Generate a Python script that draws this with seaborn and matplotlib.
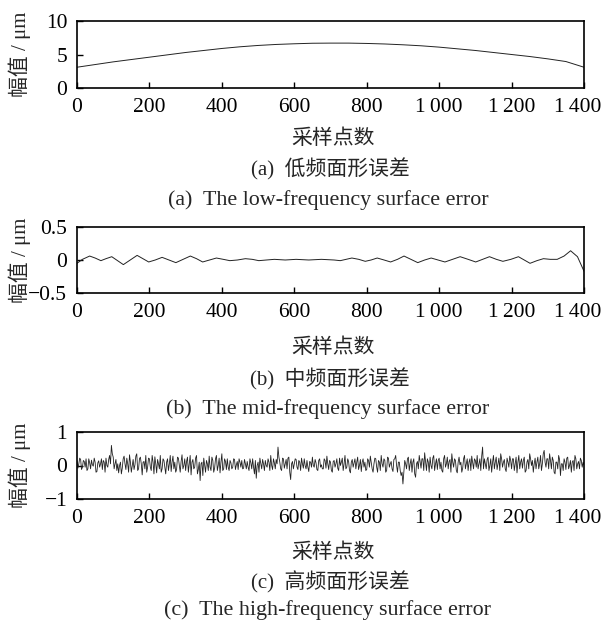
import numpy as np
import pandas as pd
import matplotlib
matplotlib.use("Agg")
import matplotlib.pyplot as plt
import matplotlib.transforms as mtransforms
import seaborn as sns

# low-frequency surface error (read every 50 samples)
low_x = list(range(0, 1401, 50))
low_y = [3.1, 3.5, 3.9, 4.25, 4.6, 4.95, 5.3, 5.6, 5.9, 6.15, 6.35, 6.5, 6.6, 6.68, 6.7,
         6.7, 6.65, 6.57, 6.45, 6.3, 6.1, 5.85, 5.6, 5.3, 5.0, 4.7, 4.35, 3.95, 3.1]

# mid-frequency surface error (peaks, troughs and crossings)
mid_x = [0, 15, 35, 50, 66, 80, 96, 112, 128, 147,
         166, 182, 198, 216, 235, 254, 273, 293, 313, 330,
         347, 366, 385, 404, 422, 443, 465, 484, 502, 523,
         545, 575, 605, 640, 675, 710, 727, 743, 759, 778,
         796, 812, 829, 848, 866, 885, 903, 922, 941, 960,
         978, 997, 1016, 1037, 1058, 1080, 1101, 1120, 1139, 1158,
         1176, 1198, 1219, 1235, 1251, 1270, 1288, 1307, 1326, 1345,
         1363, 1382, 1400]
mid_y = [-0.05, 0.01, 0.06, 0.03, -0.01, 0.02, 0.05, -0.01, -0.07, 0.0,
         0.07, 0.02, -0.03, 0.0, 0.04, 0.0, -0.04, 0.01, 0.06, 0.02,
         -0.03, 0.0, 0.03, 0.01, -0.01, 0.0, 0.02, 0.01, -0.01, 0.0,
         0.01, 0.0, 0.01, 0.0, 0.01, 0.0, -0.01, 0.01, 0.03, 0.01,
         -0.02, 0.0, 0.03, 0.0, -0.03, 0.01, 0.06, 0.01, -0.04, 0.0,
         0.03, 0.0, -0.03, 0.01, 0.05, 0.01, -0.03, 0.01, 0.05, 0.01,
         -0.02, 0.01, 0.05, 0.0, -0.05, -0.01, 0.02, 0.01, 0.01, 0.06,
         0.14, 0.05, -0.17]

# high-frequency surface error, samples at 0, 5, 10, ...
high_x_a = list(range(0, 1401, 5))
high_y_a = [
    0.15, 0.05, 0.18, -0.05, 0.12, 0.2, -0.1, 0.08, 0.16, -0.02, 0.1, -0.18, 0.14, 0.05, -0.12, 0.1, 0.22, -0.05, 0.3, 0.6,
    0.25, 0.05, -0.15, -0.22, 0.1, -0.08, 0.28, -0.12, 0.05, 0.32, -0.2, 0.18, 0.02, 0.35, -0.1, 0.25, -0.28, 0.12, 0.3, -0.05,
    0.2, -0.15, 0.1, 0.26, -0.22, 0.05, 0.3, -0.1, 0.15, -0.25, 0.2, 0.05, -0.18, 0.28, 0.1, -0.12, 0.22, -0.2, 0.32, 0.0,
    -0.15, 0.25, 0.05, -0.28, 0.18, -0.05, 0.3, -0.12, -0.45, 0.1, 0.22, -0.2, 0.05, 0.28, -0.15, 0.15, -0.08, 0.3, 0.0, -0.22,
    0.35, -0.1, 0.12, 0.2, -0.15, 0.08, -0.05, 0.18, 0.02, -0.12, 0.1, 0.15, -0.08, 0.05, 0.12, -0.15, 0.08, 0.2, -0.25, -0.38,
    0.1, 0.22, -0.1, 0.05, 0.15, -0.05, 0.1, 0.3, -0.12, 0.08, 0.18, 0.55, 0.1, -0.15, 0.2, 0.05, -0.1, 0.25, -0.42, 0.12,
    0.05, 0.18, -0.12, 0.1, 0.22, -0.08, 0.0, 0.15, -0.18, 0.1, 0.25, -0.05, 0.08, -0.15, 0.2, 0.02, -0.1, 0.15, 0.28, -0.12,
    0.1, -0.2, 0.15, 0.05, -0.08, 0.22, 0.1, -0.15, 0.3, -0.05, 0.12, -0.22, 0.18, 0.08, -0.1, 0.25, 0.0, -0.18, 0.2, 0.1,
    -0.12, 0.15, 0.28, -0.1, 0.05, 0.2, -0.2, 0.1, 0.3, -0.05, 0.15, -0.15, 0.22, 0.05, -0.1, 0.18, 0.3, -0.2, 0.1, -0.3,
    -0.55, 0.15, -0.1, 0.25, 0.05, -0.2, 0.2, -0.35, 0.12, 0.3, -0.08, 0.2, 0.38, -0.15, 0.1, 0.25, -0.1, 0.3, 0.05, -0.12,
    0.22, 0.1, -0.2, 0.3, 0.05, -0.1, 0.18, 0.35, -0.05, 0.15, -0.22, 0.25, 0.1, -0.08, 0.3, 0.05, -0.15, 0.2, 0.28, -0.1,
    0.15, 0.3, 0.05, -0.15, 0.55, 0.2, -0.1, 0.25, 0.0, -0.2, 0.3, 0.1, -0.12, 0.22, 0.35, -0.05, 0.18, -0.18, 0.1, 0.28,
    -0.1, 0.2, 0.05, -0.22, 0.3, 0.1, -0.08, 0.25, -0.15, 0.18, 0.35, 0.0, -0.2, 0.22, 0.1, -0.1, 0.3, 0.05, 0.45, -0.05,
    0.2, 0.35, -0.1, 0.15, -0.25, 0.1, 0.3, -0.3, 0.05, 0.2, -0.12, 0.25, 0.0, -0.2, 0.15, 0.3, -0.1, 0.12, 0.22, -0.05,
    0.02,
]
# high-frequency surface error, samples at 2.5, 7.5, 12.5, ...
high_x_b = [2.5 + 5 * k for k in range(280)]
high_y_b = [
    -0.08, 0.22, -0.12, 0.15, -0.05, -0.15, 0.2, -0.1, 0.02, 0.22, -0.2, 0.08, -0.05, 0.2, 0.15, -0.2, 0.0, 0.18, 0.05, 0.35,
    -0.1, 0.18, 0.05, 0.0, -0.25, 0.2, 0.05, 0.22, -0.2, 0.1, 0.0, -0.12, 0.28, -0.15, 0.2, 0.05, 0.1, -0.1, -0.2, 0.22,
    -0.05, 0.3, -0.25, 0.05, 0.18, -0.1, -0.2, 0.2, -0.05, 0.1, -0.15, 0.3, 0.1, -0.1, -0.2, 0.25, 0.0, 0.12, -0.1, 0.2,
    0.12, -0.2, 0.3, 0.1, -0.1, 0.22, -0.25, 0.1, 0.05, -0.3, 0.0, 0.15, -0.15, -0.05, 0.25, -0.2, 0.2, -0.15, 0.22, 0.1,
    -0.15, 0.2, -0.12, -0.05, 0.15, -0.1, 0.2, -0.12, 0.12, 0.2, -0.05, -0.1, 0.18, -0.1, -0.05, 0.2, -0.1, -0.05, 0.15, 0.0,
    -0.2, 0.05, 0.18, -0.15, 0.0, 0.2, -0.15, 0.0, 0.2, -0.1, 0.05, 0.25, -0.1, 0.22, -0.08, 0.18, 0.22, -0.2, 0.05, -0.1,
    0.2, -0.05, 0.15, -0.15, 0.05, 0.2, -0.1, -0.05, 0.12, -0.05, 0.0, 0.18, -0.12, 0.15, -0.05, -0.1, 0.2, -0.08, 0.05, 0.15,
    -0.15, 0.12, -0.05, 0.2, -0.15, 0.0, 0.22, 0.05, -0.1, 0.2, -0.15, 0.1, -0.05, 0.2, 0.1, -0.12, 0.18, 0.1, -0.05, -0.15,
    0.2, -0.05, 0.1, -0.2, 0.22, -0.05, 0.15, -0.15, 0.05, 0.2, -0.2, 0.25, -0.05, 0.12, -0.18, 0.2, 0.0, 0.1, -0.15, -0.2,
    -0.2, 0.05, 0.2, -0.15, 0.2, 0.1, -0.25, 0.05, -0.1, 0.1, 0.2, -0.15, 0.1, 0.2, -0.2, 0.0, 0.22, -0.15, 0.2, 0.15,
    -0.1, -0.15, 0.2, -0.05, 0.25, 0.12, -0.2, 0.1, 0.2, -0.15, 0.1, 0.02, -0.2, 0.2, -0.1, 0.2, 0.1, -0.15, 0.1, 0.2,
    -0.05, -0.1, 0.2, 0.28, -0.1, 0.05, 0.18, -0.15, 0.2, 0.1, -0.1, 0.25, 0.05, -0.15, 0.2, 0.1, -0.1, 0.22, -0.05, 0.15,
    0.2, -0.15, 0.25, 0.1, -0.1, 0.2, 0.15, -0.2, 0.1, -0.1, 0.2, 0.15, 0.05, -0.1, 0.25, 0.05, -0.15, 0.35, 0.1, 0.2,
    -0.1, 0.15, 0.25, -0.2, 0.1, -0.1, 0.18, 0.05, -0.15, 0.1, 0.22, -0.1, 0.15, 0.1, -0.15, 0.2, 0.05, -0.1, 0.15, 0.1,
]

x_ticks = [0, 200, 400, 600, 800, 1000, 1200, 1400]
x_ticklabels = ["0", "200", "400", "600", "800", "1\u2009000", "1\u2009200", "1\u2009400"]

high = pd.concat([pd.DataFrame({"x": high_x_a, "y": high_y_a}),
                  pd.DataFrame({"x": high_x_b, "y": high_y_b})]).sort_values("x")

frames = [pd.DataFrame({"x": low_x, "y": low_y}),
          pd.DataFrame({"x": mid_x, "y": mid_y}),
          high]

panels = [
    ([0, 5, 10], ["0", "5", "10"], (0, 10),
     "(a)  低频面形误差", "(a)  The low-frequency surface error"),
    ([-0.5, 0, 0.5], ["\u22120.5", "0", "0.5"], (-0.5, 0.5),
     "(b)  中频面形误差", "(b)  The mid-frequency surface error"),
    ([-1, 0, 1], ["\u22121", "0", "1"], (-1, 1),
     "(c)  高频面形误差", "(c)  The high-frequency surface error"),
]
line_widths = [0.7, 0.7, 0.6]

sns.set_theme(style="white")
plt.rcParams["font.family"] = ["Liberation Serif", "DejaVu Serif", "Noto Sans CJK SC"]
plt.rcParams["axes.unicode_minus"] = True

W, H = 606, 622
fig = plt.figure(figsize=(W / 100, H / 100), dpi=100)

# axes boxes in pixels: (top, bottom)
boxes = [(21, 88), (227, 293), (432, 499)]
# text centres in pixels: (xlabel, caption cn, caption en)
text_y = [(139, 169, 200), (348, 379, 409), (553, 582, 610)]
left, right = 77, 584
shift_left = mtransforms.ScaledTranslation(-6 / 100, 0, fig.dpi_scale_trans)

for df, (yt, ytl, ylim, cap_cn, cap_en), (top, bot), (ty1, ty2, ty3), lw in zip(
        frames, panels, boxes, text_y, line_widths):
    ax = fig.add_axes([left / W, 1 - bot / H, (right - left) / W, (bot - top) / H])
    sns.lineplot(data=df, x="x", y="y", ax=ax, color="#222222", linewidth=lw,
                 estimator=None, sort=False)
    ax.set_xlim(0, 1400)
    ax.set_ylim(*ylim)
    ax.set_xticks(x_ticks)
    ax.set_xticklabels(x_ticklabels)
    ax.set_yticks(yt)
    ax.set_yticklabels(ytl)
    ax.set_xlabel("")
    ax.set_ylabel("")
    ax.tick_params(direction="in", length=4, width=1, labelsize=15.5, colors="black",
                   pad=7, bottom=True, left=True, top=False, right=False)
    last = ax.get_xticklabels()[-1]
    last.set_transform(last.get_transform() + shift_left)
    for sp in ax.spines.values():
        sp.set_color("black")
        sp.set_linewidth(1.2)
    fig.text(20 / W, 1 - (top + bot) / 2 / H, "幅值 / μm", rotation=90,
             ha="center", va="center", fontsize=15)
    fig.text(333 / W, 1 - ty1 / H, "采样点数", ha="center", va="center", fontsize=15)
    fig.text(330 / W, 1 - ty2 / H, cap_cn, ha="center", va="center", fontsize=15)
    fig.text(328 / W, 1 - ty3 / H, cap_en, ha="center", va="center", fontsize=15.8)

fig.savefig("out.png", dpi=100)
